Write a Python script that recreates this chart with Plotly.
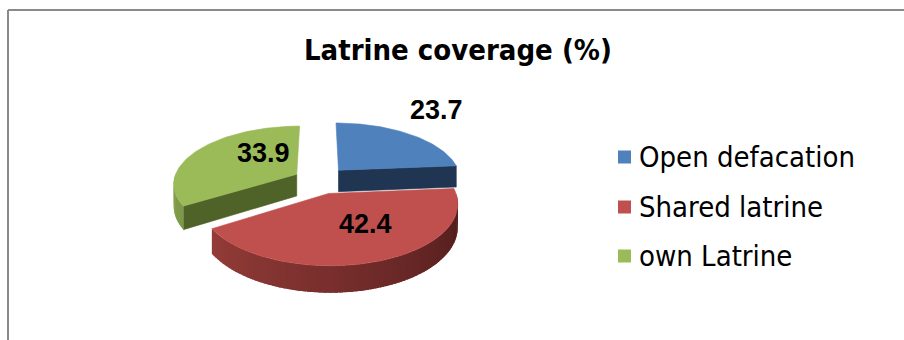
import numpy as np
import plotly.graph_objects as go

# ---- data ----
categories = ["Open defacation", "Shared latrine", "own Latrine"]
coverage = [23.7, 42.4, 33.9]
chart_title = "Latrine coverage (%)"

# ---- styling ----
top_colors = ["#4F81BD", "#C0504D", "#9BBB59"]
cut_colors = ["#1F3552", "#4E1C1B", "#4F6228"]
rim_light = ["#3B6496", "#A5433F", "#86A34E"]
rim_dark = ["#22395A", "#4A1A1A", "#4F6228"]
explode = [0.24, 0.24, 0.21]
label_xy = [(436, 110), (365, 224), (263, 153)]
legend_rows = [157, 207, 256]

W, H = 904, 340
CX, CY = 319, 180          # pie centre (pixels)
RX, RY = 123, 57           # ellipse radii
PERSP = 0.15               # perspective strength
DEPTH = 22                 # slab thickness

FONT_LBL = "Liberation Sans, Arial, sans-serif"
FONT_TXT = "DejaVu Sans Condensed, DejaVu Sans, sans-serif"


def project(theta, r, e, mid, level):
    """Map a point on a slice (angle clockwise from 12 o'clock) to the page."""
    th = np.radians(theta)
    m = np.radians(mid)
    x = r * np.sin(th) + e * np.sin(m)
    z = r * np.cos(th) + e * np.cos(m)
    w = 1 + PERSP * z
    return CX + RX * x / w, CY + (-RY * z + DEPTH * level) / w


def mix(c1, c2, t):
    a = [int(c1[i:i + 2], 16) for i in (1, 3, 5)]
    b = [int(c2[i:i + 2], 16) for i in (1, 3, 5)]
    return "#%02X%02X%02X" % tuple(round(a[k] + (b[k] - a[k]) * t) for k in range(3))


def poly(fig, xs, ys, color, edge=0.6):
    fig.add_trace(go.Scatter(
        x=list(xs) + [xs[0]], y=list(ys) + [ys[0]], mode="lines",
        fill="toself", fillcolor=color,
        line=dict(color=color, width=edge),
        hoverinfo="skip", showlegend=False))


total = sum(coverage)
bounds = np.concatenate([[0], np.cumsum(coverage) / total * 360])
slices = []
for i in range(len(coverage)):
    a, b = bounds[i], bounds[i + 1]
    slices.append((i, a, b, (a + b) / 2))

fig = go.Figure()

# draw back slices first, the front (shared latrine) slice last
for i, a, b, mid in [slices[0], slices[2], slices[1]]:
    e = explode[i]
    # radial cut faces turned towards the viewer
    for edge, normal in ((a, a - 90), (b, b + 90)):
        if np.cos(np.radians(normal)) < -1e-6:
            p = [project(edge, 0, e, mid, 0), project(edge, 1, e, mid, 0),
                 project(edge, 1, e, mid, 1), project(edge, 0, e, mid, 1)]
            poly(fig, [q[0] for q in p], [q[1] for q in p], cut_colors[i])
    # visible part of the outer rim, shaded from left (light) to right (dark);
    # strips overlap a little so no seams show between them
    lo, hi = max(a, 90), min(b, 270)
    if hi > lo:
        n = max(2, int((hi - lo) / 2))
        ang = np.linspace(lo, hi, n + 1)
        step = ang[1] - ang[0]
        for j in range(n):
            t0 = ang[j]
            t1 = min(hi, ang[j + 1] + step * 0.8)
            shade = mix(rim_light[i], rim_dark[i], (270 - (ang[j] + ang[j + 1]) / 2) / 180)
            arc = np.linspace(t0, t1, 4)
            p = [project(t, 1, e, mid, 0) for t in arc] + \
                [project(t, 1, e, mid, 1) for t in arc[::-1]]
            poly(fig, [q[0] for q in p], [q[1] for q in p], shade, edge=0)
    # top face
    arc = np.linspace(a, b, 80)
    pts = [project(0, 0, e, mid, 0)] + [project(t, 1, e, mid, 0) for t in arc]
    poly(fig, [q[0] for q in pts], [q[1] for q in pts], top_colors[i])

annotations = [dict(x=W / 2 + 6, y=50, text=chart_title, showarrow=False,
                    font=dict(family=FONT_TXT, size=29, color="#000000", weight="bold"),
                    xanchor="center", yanchor="middle")]
for i, v in enumerate(coverage):
    annotations.append(dict(x=label_xy[i][0], y=label_xy[i][1], text=f"{v:.1f}",
                            showarrow=False, xanchor="center", yanchor="middle",
                            font=dict(family=FONT_LBL, size=27, color="#000000",
                                      weight="bold")))

shapes = [
    dict(type="line", x0=8, y0=10, x1=W, y1=10, line=dict(color="#8A8A8A", width=2)),
    dict(type="line", x0=8, y0=10, x1=8, y1=H, line=dict(color="#8A8A8A", width=2)),
]
for i, name in enumerate(categories):
    yc = legend_rows[i]
    shapes.append(dict(type="rect", x0=618, x1=631, y0=yc - 6.5, y1=yc + 6.5,
                       fillcolor=top_colors[i], line=dict(width=0)))
    annotations.append(dict(x=637, y=yc, text=name, showarrow=False,
                            xanchor="left", yanchor="middle",
                            font=dict(family=FONT_TXT, size=29, color="#000000")))

fig.update_layout(
    width=W, height=H, margin=dict(l=0, r=0, t=0, b=0, pad=0),
    paper_bgcolor="white", plot_bgcolor="white", showlegend=False,
    xaxis=dict(range=[0, W], visible=False, fixedrange=True),
    yaxis=dict(range=[H, 0], visible=False, fixedrange=True),
    annotations=annotations, shapes=shapes,
)

fig.write_html("out.html")
